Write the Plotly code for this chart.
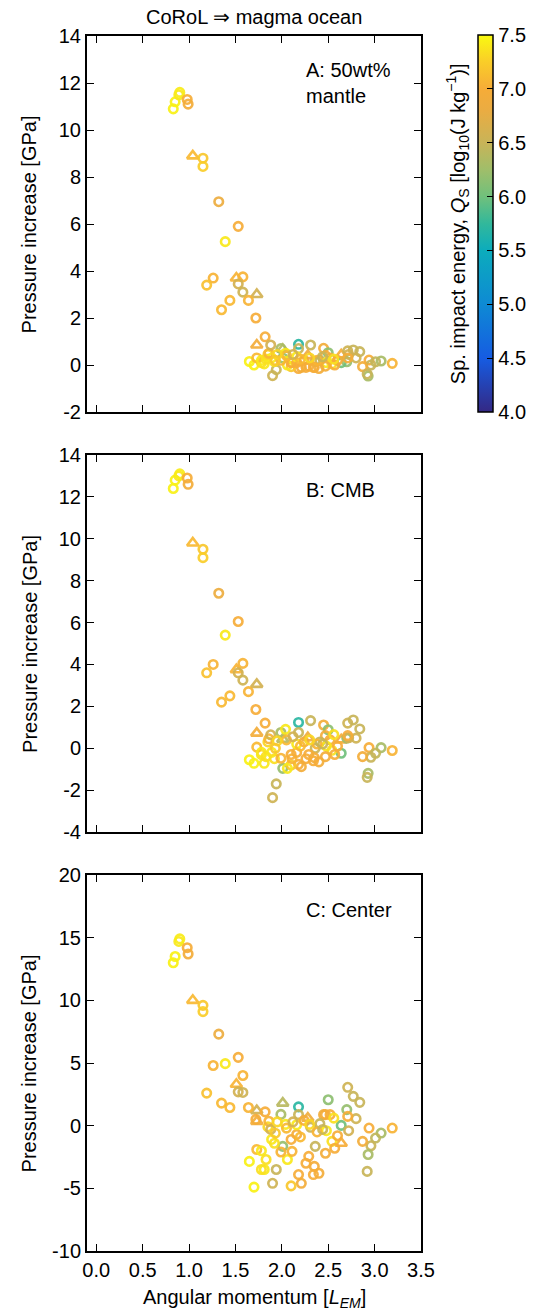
import plotly.graph_objects as go

# ---------------- data ----------------
# one entry per simulation: angular momentum, impact energy, marker kind,
# pressure increase in the 50wt% mantle, at the CMB and at the center
x_lem = [0.83, 0.85, 0.89, 0.90, 0.98, 0.99, 1.04, 1.15, 1.15, 1.32,
         1.53, 1.39, 1.26, 1.19, 1.51, 1.58, 1.53, 1.58, 1.73, 1.64,
         1.44, 1.35, 1.72, 1.82, 1.73,
         1.65, 1.70, 1.81, 1.90, 1.94, 2.01, 1.78, 1.73, 1.78, 1.83,
         1.89, 1.92, 1.85, 1.86, 1.88, 2.01, 1.99, 2.04, 2.18, 2.18,
         2.31, 2.45, 2.50, 2.64, 2.71, 2.77, 2.84, 2.70, 2.80, 2.64,
         2.72, 2.94, 3.19, 3.07, 3.01, 2.96, 2.87, 2.93, 2.92, 2.71,
         2.47, 2.52, 2.41, 2.48, 2.54, 2.57, 2.47, 2.36, 2.29, 2.26,
         2.35, 2.40, 2.34, 2.18, 2.21, 2.10, 2.06, 2.11, 1.99, 2.10,
         2.16, 2.16, 2.24, 2.05, 1.95, 2.28, 2.20, 2.38, 2.30, 2.44,
         2.60, 2.12, 1.93, 2.56]
q_s = [7.45, 7.45, 7.40, 7.42, 7.00, 6.95, 7.10, 7.20, 7.25, 6.85,
       7.00, 7.40, 7.05, 7.15, 7.05, 7.05, 6.60, 6.55, 6.60, 7.05,
       7.10, 7.10, 7.00, 7.00, 6.95,
       7.45, 7.45, 7.40, 6.55, 6.50, 6.20, 7.35, 7.10, 7.40, 7.35,
       7.40, 7.35, 7.30, 7.05, 6.60, 6.40, 6.30, 7.40, 5.70, 6.50,
       6.50, 6.95, 6.15, 7.00, 6.55, 6.50, 6.50, 6.20, 6.55, 6.00,
       6.60, 7.00, 7.05, 6.30, 6.45, 6.50, 6.95, 6.30, 6.50, 7.00,
       6.95, 7.00, 6.50, 7.40, 7.35, 7.00, 6.95, 6.50, 7.00, 7.00,
       6.95, 6.95, 7.00, 7.00, 6.95, 7.20, 7.40, 7.05, 7.05, 7.00,
       7.00, 7.40, 7.00, 7.10, 7.30, 6.90, 7.10, 7.05, 7.30, 6.50,
       7.00, 6.60, 7.20, 7.35]
marker_kind = ["o", "o", "o", "o", "o", "o", "t", "o", "o", "o",
               "o", "o", "o", "o", "t", "o", "o", "o", "t", "o",
               "o", "o", "o", "o", "t",
               "o", "o", "o", "o", "o", "o", "o", "o", "o", "o",
               "o", "o", "o", "o", "o", "t", "o", "o", "o", "o",
               "o", "o", "o", "t", "o", "o", "o", "o", "o", "o",
               "o", "o", "o", "o", "o", "o", "o", "o", "o", "o",
               "o", "o", "o", "o", "o", "o", "o", "o", "o", "o",
               "o", "o", "o", "o", "o", "o", "o", "o", "o", "o",
               "o", "o", "o", "o", "o", "t", "o", "o", "o", "o",
               "o", "o", "o", "o"]
dp_mantle = [10.9, 11.2, 11.5, 11.6, 11.3, 11.1, 8.9, 8.8, 8.45, 6.95,
             5.9, 5.25, 3.7, 3.4, 3.7, 3.75, 3.45, 3.1, 3.0, 2.75,
             2.75, 2.35, 2.0, 1.2, 0.85,
             0.15, 0.0, 0.05, -0.45, -0.2, 0.3, 0.1, 0.3, 0.2, 0.25,
             0.3, 0.15, 0.45, 0.5, 0.85, 0.67, 0.7, 0.5, 0.88, 0.7,
             0.85, 0.71, 0.52, 0.43, 0.6, 0.64, 0.57, 0.14, 0.3, 0.1,
             0.45, 0.21, 0.07, 0.17, 0.14, 0.0, -0.07, -0.47, -0.38, 0.3,
             0.4, 0.3, 0.2, 0.1, 0.05, 0.0, -0.05, 0.15, -0.05, -0.1,
             -0.1, -0.15, -0.1, -0.15, -0.1, -0.07, 0.0, 0.1, 0.2, 0.1,
             0.1, 0.35, 0.2, 0.4, 0.45, 0.4, 0.25, 0.2, 0.3, 0.35,
             0.2, 0.45, 0.2, 0.25]
dp_cmb = [12.4, 12.8, 13.0, 13.1, 12.9, 12.6, 9.8, 9.5, 9.1, 7.4,
          6.05, 5.4, 4.0, 3.6, 3.75, 4.05, 3.6, 3.25, 3.05, 2.7,
          2.5, 2.2, 1.85, 1.2, 0.72,
          -0.55, -0.72, -0.72, -2.36, -1.7, -0.96, -0.3, 0.05, -0.2, -0.4,
          -0.2, -0.5, 0.3, 0.45, 0.64, 0.43, 0.75, 0.9, 1.23, 0.75,
          1.32, 1.11, 0.88, 0.4, 1.2, 1.35, 0.92, 0.48, 0.48, -0.24,
          0.5, 0.03, -0.11, 0.03, -0.24, -0.43, -0.4, -1.2, -1.39, 0.6,
          0.6, 0.4, 0.3, 0.1, -0.1, -0.3, -0.4, 0.0, -0.3, -0.5,
          -0.45, -0.65, -0.6, -0.77, -0.88, -0.8, -0.96, -0.5, -0.48, -0.3,
          -0.2, 0.2, 0.3, 0.4, 0.35, 0.5, 0.1, 0.2, 0.4, 0.2,
          0.1, 0.55, 0.0, 0.65]
dp_center = [13.0, 13.5, 14.7, 14.9, 14.2, 13.7, 10.0, 9.6, 9.1, 7.3,
             5.45, 4.95, 4.8, 2.6, 3.3, 4.0, 2.7, 2.65, 1.2, 1.45,
             1.45, 1.8, 0.5, 1.1, 0.34,
             -2.85, -4.9, -3.5, -4.6, -3.5, -1.65, -3.5, -1.9, -2.0, -2.7,
             -1.1, -1.4, -0.1, 0.35, -0.3, 1.8, 0.9, 0.1, 1.5, 0.88,
             -0.13, 0.88, 2.07, -1.4, 3.06, 2.34, 1.86, 1.28, 0.56, 0.02,
             -0.4, -0.19, -0.19, -0.59, -0.99, -1.6, -1.25, -2.3, -3.65, 0.74,
             0.88, 0.88, 0.16, -0.4, -1.25, -1.8, -2.2, -1.65, -2.45, -3.0,
             -3.25, -3.8, -3.9, -3.9, -4.6, -4.8, -2.7, -2.05, -2.1, -1.1,
             -0.7, 0.07, 0.42, -0.2, 0.3, 0.6, -0.9, -0.5, 0.1, -0.3,
             -0.8, 0.3, -0.6, 0.6]

panel_labels = ["A: 50wt%<br>mantle", "B: CMB", "C: Center"]
y_ticks = [[-2, 0, 2, 4, 6, 8, 10, 12, 14],
           [-4, -2, 0, 2, 4, 6, 8, 10, 12, 14],
           [-10, -5, 0, 5, 10, 15, 20]]
x_ticks = [0.0, 0.5, 1.0, 1.5, 2.0, 2.5, 3.0, 3.5]
cbar_ticks = [4.0, 4.5, 5.0, 5.5, 6.0, 6.5, 7.0, 7.5]

# ---------------- styling ----------------
FONT = "Liberation Sans, Arial, Helvetica, sans-serif"
FS = 20
parula = [
    [0.000, "rgb(52,40,132)"],
    [0.143, "rgb(22,92,226)"],
    [0.286, "rgb(14,138,212)"],
    [0.429, "rgb(12,172,188)"],
    [0.500, "rgb(50,184,155)"],
    [0.571, "rgb(112,192,124)"],
    [0.643, "rgb(160,190,106)"],
    [0.714, "rgb(200,180,88)"],
    [0.800, "rgb(234,172,66)"],
    [0.857, "rgb(246,172,56)"],
    [0.930, "rgb(250,206,40)"],
    [1.000, "rgb(249,250,16)"],
]

W, H = 545, 1316
L, R, T, B = 87, 429, 36, 1251
plot_h = B - T
plot_w = R - L
panels_px = [(36, 412), (455, 832), (875, 1251)]


def yfrac(py):
    return (B - py) / plot_h


def xfrac(px):
    return (px - L) / plot_w


symbols = ["circle-open" if k == "o" else "triangle-up-open" for k in marker_kind]
sizes = [8.5 if k == "o" else 10 for k in marker_kind]

fig = go.Figure()
series = [dp_mantle, dp_cmb, dp_center]
for i, ys in enumerate(series):
    suffix = "" if i == 0 else str(i + 1)
    fig.add_trace(go.Scatter(
        x=x_lem, y=ys, mode="markers",
        xaxis="x" + suffix, yaxis="y" + suffix,
        marker=dict(symbol=symbols, size=sizes, color=q_s,
                    coloraxis="coloraxis", opacity=0.92,
                    line=dict(width=2.6)),
        showlegend=False, hoverinfo="skip",
    ))

layout = dict(
    width=W, height=H,
    margin=dict(l=L, r=W - R, t=T, b=H - B, pad=0),
    paper_bgcolor="white", plot_bgcolor="white",
    font=dict(family=FONT, size=FS, color="black"),
    coloraxis=dict(
        cmin=4.0, cmax=7.5, colorscale=parula,
        colorbar=dict(
            x=xfrac(487), xanchor="left", xpad=0,
            y=yfrac(35), yanchor="top", ypad=0,
            len=(412 - 35) / plot_h, lenmode="fraction",
            thickness=15, thicknessmode="pixels",
            outlinewidth=1.5, outlinecolor="black",
            tickvals=cbar_ticks, ticktext=[f"{v:.1f}" for v in cbar_ticks],
            ticks="inside", ticklen=6, tickwidth=1.2, tickcolor="black",
            tickfont=dict(family=FONT, size=FS),
        ),
    ),
)

for i, (top, bot) in enumerate(panels_px):
    suffix = "" if i == 0 else str(i + 1)
    ax_x = dict(
        domain=[0, 1], range=[-0.1, 3.5], anchor="y" + suffix,
        showline=True, linewidth=2, linecolor="black", mirror="ticks",
        ticks="inside", ticklen=7, tickwidth=1.2, tickcolor="black",
        tickvals=x_ticks, ticktext=[f"{v:.1f}" for v in x_ticks],
        showticklabels=(i == 2), showgrid=False, zeroline=False,
        tickfont=dict(family=FONT, size=FS),
    )
    yt = y_ticks[i]
    ax_y = dict(
        domain=[yfrac(bot), yfrac(top)], range=[yt[0], yt[-1]],
        anchor="x" + suffix,
        showline=True, linewidth=2, linecolor="black", mirror="ticks",
        ticks="inside", ticklen=7, tickwidth=1.2, tickcolor="black",
        tickvals=yt, ticktext=[str(v) for v in yt],
        showgrid=False, zeroline=False,
        tickfont=dict(family=FONT, size=FS),
    )
    if i > 0:
        ax_x["matches"] = "x"
    layout["xaxis" + suffix] = ax_x
    layout["yaxis" + suffix] = ax_y

fig.update_layout(**layout)

annotations = [
    dict(text="CoRoL ⇒ magma ocean", x=0.5, y=yfrac(17), xref="paper", yref="paper",
         showarrow=False, xanchor="center", yanchor="middle", font=dict(size=FS)),
    dict(text="Angular momentum [<i>L</i><sub><i>EM</i></sub>]", x=xfrac(258), y=yfrac(1298),
         xref="paper", yref="paper", showarrow=False, xanchor="center", yanchor="middle",
         font=dict(size=FS)),
    dict(text="Sp. impact energy, <i>Q</i><sub>S</sub> [log<sub>10</sub>(J kg<sup>−1</sup>)]",
         x=xfrac(466), y=yfrac(224), xref="paper", yref="paper", showarrow=False,
         textangle=-90, xanchor="center", yanchor="middle", font=dict(size=FS)),
]
label_tops = [57, 477, 897]
for i, (top, bot) in enumerate(panels_px):
    annotations.append(dict(
        text="Pressure increase [GPa]", x=xfrac(28), y=yfrac((top + bot) / 2),
        xref="paper", yref="paper", showarrow=False, textangle=-90,
        xanchor="center", yanchor="middle", font=dict(size=FS)))
    annotations.append(dict(
        text=panel_labels[i], x=xfrac(309), y=yfrac(label_tops[i]),
        xref="paper", yref="paper", showarrow=False, xanchor="left", yanchor="top",
        align="left", font=dict(size=FS)))
fig.update_layout(annotations=annotations)

fig.write_html(
    "out.html",
    config={"displayModeBar": False},
    post_script="document.body.style.margin='0px';document.body.style.overflow='hidden';",
)
